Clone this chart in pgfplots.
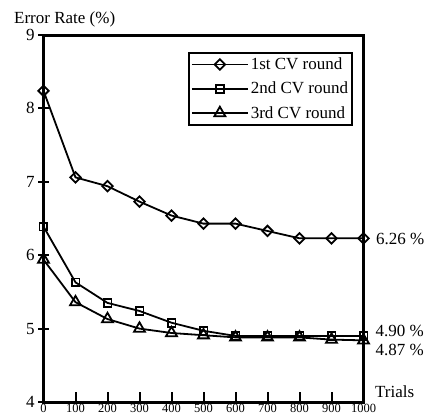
\documentclass[border=0pt]{standalone}
\usepackage{fontspec}
\setmainfont{Liberation Serif}
\usepackage{pgfplots}
\pgfplotsset{compat=1.18}

\begin{document}
\begin{tikzpicture}
\begin{axis}[
    scale only axis,
    width=320pt, height=367pt,
    xmin=0, xmax=1000, ymin=4, ymax=9,
    xtick={0,100,...,1000}, ytick={4,5,6,7,8,9},
    xtick pos=bottom, ytick pos=left,
    xtick align=inside, ytick align=center,
    major tick length=10.5pt,
    tick style={line width=2pt, black},
    axis line style={line width=3pt},
    /pgf/number format/assume math mode=true,
    /pgf/number format/1000 sep={},
    xticklabel style={font=\fontsize{12.5}{14}\selectfont, yshift=1.5pt},
    yticklabel style={font=\fontsize{17}{20}\selectfont},
    legend style={at={(rel axis cs:0.967,0.954)}, anchor=north east,
        draw=black, line width=1.8pt, font=\fontsize{17}{20}\selectfont,
        inner xsep=2pt, inner ysep=3pt, row sep=7pt},
    legend cell align=left,
    legend image code/.code={\draw[mark repeat=2,mark phase=2,#1]
        plot coordinates {(0pt,0pt) (28pt,0pt) (56pt,0pt)};},
    clip=false,
]
% 1st CV round
\addplot[black, line width=1.8pt, mark=square, mark size=3.7pt,
    mark options={solid, rotate=45, fill=white, line width=1.8pt}] coordinates {
    (0,8.24) (100,7.06) (200,6.94) (300,6.73) (400,6.54) (500,6.43)
    (600,6.43) (700,6.33) (800,6.23) (900,6.23) (1000,6.23)
};
% 2nd CV round
\addplot[black, line width=1.8pt, mark=square, mark size=3.9pt,
    mark options={solid, fill=white, line width=1.8pt}] coordinates {
    (0,6.39) (100,5.63) (200,5.35) (300,5.24) (400,5.08) (500,4.97)
    (600,4.90) (700,4.90) (800,4.90) (900,4.90) (1000,4.90)
};
% 3rd CV round
\addplot[black, line width=1.8pt, mark=triangle, mark size=6.3pt,
    mark options={solid, fill=white, line width=1.8pt}] coordinates {
    (0,5.94) (100,5.36) (200,5.13) (300,5.00) (400,4.94) (500,4.91)
    (600,4.88) (700,4.88) (800,4.88) (900,4.85) (1000,4.84)
};
\legend{1st CV round, 2nd CV round, 3rd CV round}
\coordinate (O) at (rel axis cs:0,0);
\node[anchor=base west, font=\fontsize{17}{20}\selectfont, inner sep=0pt,
    xshift=-29.5pt, yshift=12pt] at (rel axis cs:0,1) {Error Rate (\%)};
\node[anchor=base west, font=\fontsize{17}{20}\selectfont, inner sep=0pt,
    xshift=11.5pt, yshift=5pt] at (rel axis cs:1,0) {Trials};
\node[anchor=west, font=\fontsize{17}{20}\selectfont, inner sep=0pt,
    xshift=12.5pt] at (axis cs:1000,6.22) {6.26 \%};
\node[anchor=west, font=\fontsize{17}{20}\selectfont, inner sep=0pt,
    xshift=12pt] at (axis cs:1000,4.97) {4.90 \%};
\node[anchor=west, font=\fontsize{17}{20}\selectfont, inner sep=0pt,
    xshift=12pt] at (axis cs:1000,4.71) {4.87 \%};
\end{axis}
\pgfresetboundingbox
\path[use as bounding box] (O) ++(-43.5pt,-16pt) rectangle ++(428pt,418pt);
\end{tikzpicture}
\end{document}
